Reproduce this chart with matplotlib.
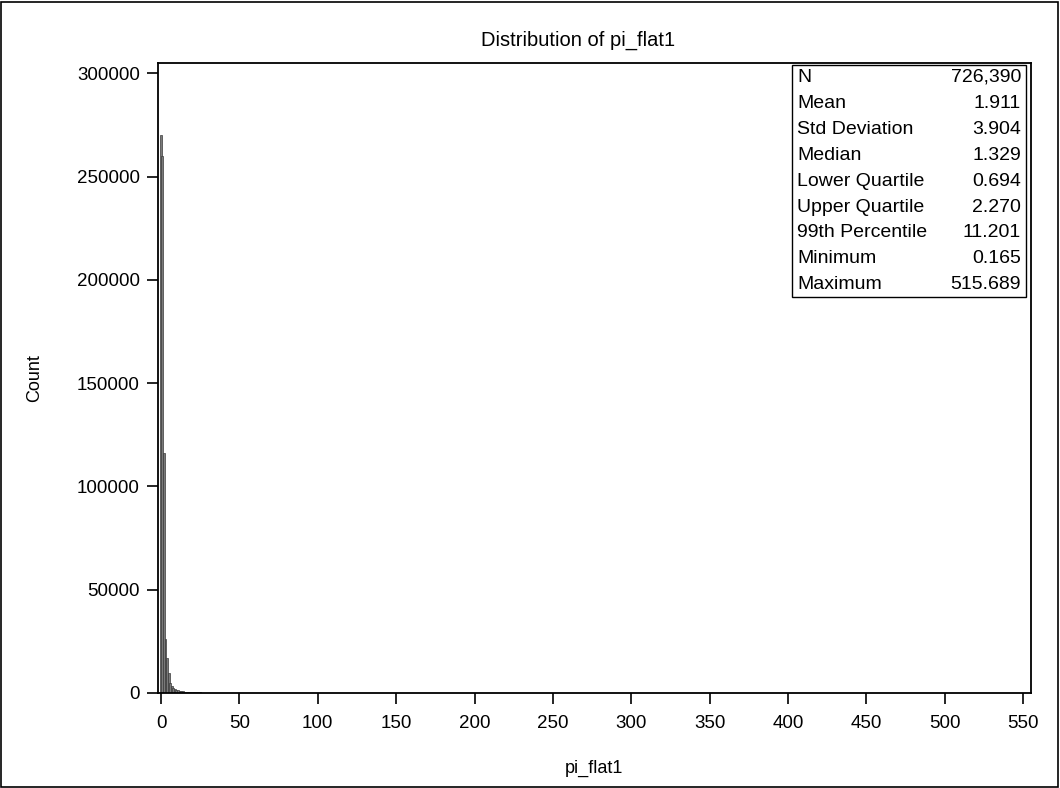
import matplotlib
matplotlib.use("Agg")
import matplotlib.pyplot as plt
import numpy as np

plt.rcParams['font.family'] = ['Liberation Sans', 'DejaVu Sans']

# histogram counts, 1-unit bins starting at 0
main_counts = [
    270000, 260000, 116000, 26000, 17000, 9500, 5000, 3200, 2500, 2000,
    1600, 1300, 1100, 900, 800, 700, 600, 520, 460, 400,
    350, 320, 300, 280, 260, 240, 220, 200, 190, 180,
    170, 160, 150, 140, 130, 125, 120, 115, 110, 105,
    100, 95, 90, 85, 80, 78, 75, 72, 70, 68,
    65, 62, 60, 58, 55, 52, 50, 48, 46, 44,
    42, 40, 38, 36, 35, 34, 33, 32, 31, 30,
    29, 28, 27, 26, 25, 24, 23, 22, 21, 20,
    20, 19, 18, 18, 17, 16, 16, 15, 15, 14,
    14, 13, 13, 12, 12, 11, 11, 10, 10, 10,
]

# sparse tail beyond 100
tail_bins = [101, 103, 104, 106, 108, 110, 112, 113, 115, 118, 120, 122, 125, 127, 130,
             133, 135, 138, 140, 142, 145, 148, 150, 152, 155, 158, 160, 163, 166, 170,
             174, 178, 182, 186, 190, 196, 203, 210, 216, 224, 232, 242, 247, 258, 266,
             270, 280, 300, 315, 340, 378, 460, 516]
tail_counts = [9, 8, 8, 7, 7, 6, 6, 6, 5, 5, 5, 5, 4, 4, 4,
               4, 4, 3, 3, 3, 3, 3, 3, 3, 2, 2, 2, 2, 2, 2,
               2, 2, 2, 2, 2, 1, 1, 1, 1, 1, 1, 1, 1, 1, 1,
               1, 1, 1, 1, 1, 1, 1, 1]

stat_names = ["N", "Mean", "Std Deviation", "Median", "Lower Quartile",
              "Upper Quartile", "99th Percentile", "Minimum", "Maximum"]
stat_values = ["726,390", "1.911", "3.904", "1.329", "0.694",
               "2.270", "11.201", "0.165", "515.689"]

bin_left = np.concatenate([np.arange(len(main_counts)), tail_bins])
counts = np.concatenate([main_counts, tail_counts])

fig = plt.figure(figsize=(10.6, 7.88), dpi=100)
ax = fig.add_axes([0.149, 0.1206, 0.8236, 0.7994])

ax.bar(bin_left - 0.8, counts, width=1.2, align='edge', color='#7a7a7a',
       edgecolor='#3a3a3a', linewidth=0.5)

ax.set_xlim(-2, 555)
ax.set_ylim(0, 305000)
ax.set_xticks(np.arange(0, 551, 50))
ax.set_yticks(np.arange(0, 300001, 50000))
ax.tick_params(direction='out', length=8, width=1.2, labelsize=13.5)
ax.tick_params(axis='x', pad=8)
ax.tick_params(axis='y', pad=5)
for s in ax.spines.values():
    s.set_linewidth(1.3)

fig.text(578 / 1060, 1 - 40 / 788, "Distribution of pi_flat1", fontsize=14.5,
         ha='center', va='center')
ax.set_xlabel("pi_flat1", fontsize=13, labelpad=20)
ax.set_ylabel("Count", fontsize=13, labelpad=24)

# statistics box
box = plt.Rectangle((792 / 1060, 1 - 297 / 788), (1026 - 792) / 1060, (297 - 65) / 788,
                    transform=fig.transFigure, fill=False, edgecolor='black', linewidth=1)
fig.add_artist(box)
for i, (name, val) in enumerate(zip(stat_names, stat_values)):
    y = 1 - (77.5 + i * 25.9) / 788
    fig.text(797 / 1060, y, name, fontsize=14, va='center', ha='left')
    fig.text(1021 / 1060, y, val, fontsize=14, va='center', ha='right')

# outer frame
frame = plt.Rectangle((0.001, 0.001), 0.997, 0.997, transform=fig.transFigure,
                      fill=False, edgecolor='black', linewidth=1.2)
fig.add_artist(frame)

fig.savefig("out.png", dpi=100)
